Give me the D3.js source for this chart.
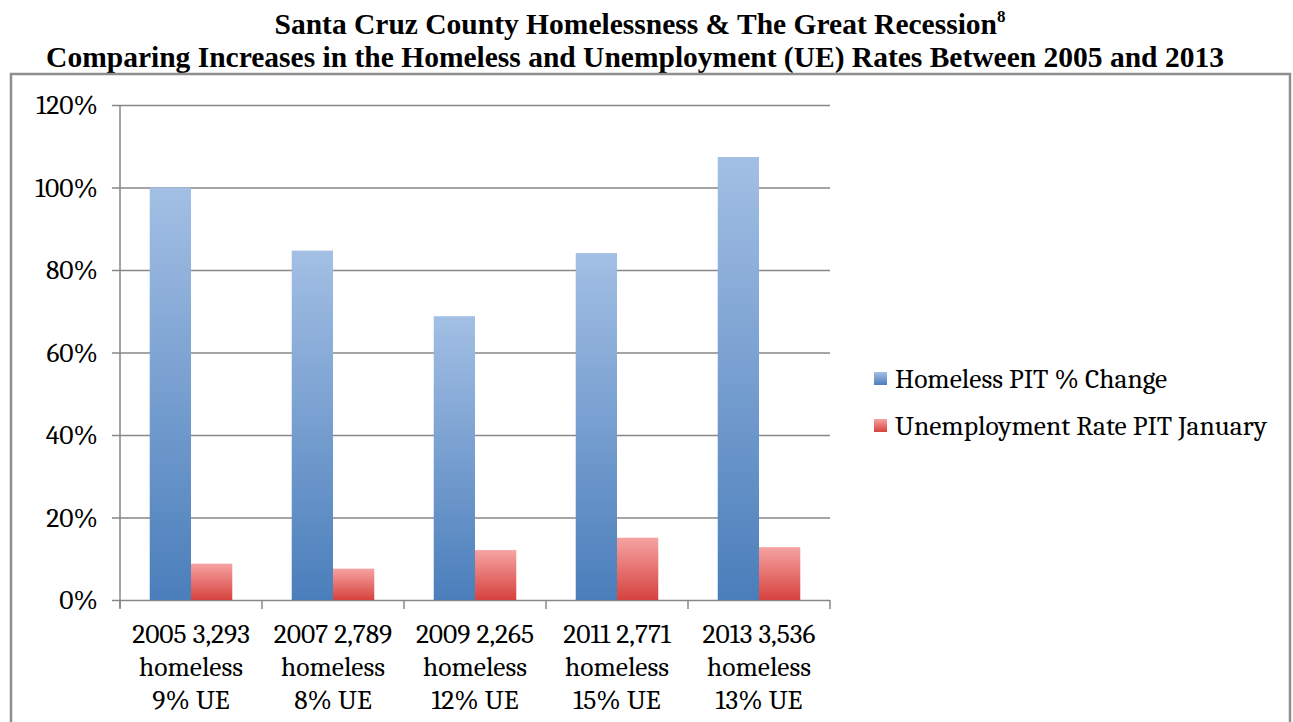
<!DOCTYPE html>
<html>
<head>
<meta charset="utf-8">
<script src="https://cdn.jsdelivr.net/npm/d3@7"></script>
<style>
  body { margin: 0; background: #fff; }
  svg text { fill: #000; }
</style>
</head>
<body>
<div id="chart"></div>
<script>
// Categories (each label is three lines)
var categories = [
    ["2005 3,293", "homeless", "9% UE"],
    ["2007 2,789", "homeless", "8% UE"],
    ["2009 2,265", "homeless", "12% UE"],
    ["2011 2,771", "homeless", "15% UE"],
    ["2013 3,536", "homeless", "13% UE"]
];

// Series values (percent)
var homelessChange = [100, 84.7, 68.8, 84.1, 107.4];
var unemploymentRate = [8.8, 7.6, 12.1, 15.1, 12.8];

var seriesNames = ["Homeless PIT % Change", "Unemployment Rate PIT January"];
var yTicks = [0, 20, 40, 60, 80, 100, 120];

var W = 1293, H = 722;
var svg = d3.select("#chart").append("svg")
    .attr("width", W)
    .attr("height", H);

var defs = svg.append("defs");
function grad(id, top, bottom) {
    var g = defs.append("linearGradient")
        .attr("id", id)
        .attr("x1", 0).attr("y1", 0).attr("x2", 0).attr("y2", 1);
    g.append("stop").attr("offset", "0%").attr("stop-color", top);
    g.append("stop").attr("offset", "100%").attr("stop-color", bottom);
}
grad("gBlue", "#a3bfe4", "#4a7ebb");
grad("gRed", "#f6a3a2", "#d6423e");

// Title
var title = svg.append("g")
    .attr("font-family", "'Liberation Serif', 'Times New Roman', serif")
    .attr("font-weight", "bold")
    .attr("font-size", "29.5px")
    .attr("text-anchor", "middle");
var t1 = title.append("text").attr("x", 640).attr("y", 34);
t1.append("tspan").text("Santa Cruz County Homelessness & The Great Recession");
t1.append("tspan").attr("font-size", "17px").attr("dy", -12).text("8");
title.append("text").attr("x", 635).attr("y", 67)
    .text("Comparing Increases in the Homeless and Unemployment (UE) Rates Between 2005 and 2013");

// Chart frame
svg.append("rect")
    .attr("x", 11).attr("y", 74)
    .attr("width", 1279).attr("height", 680)
    .attr("fill", "none")
    .attr("stroke", "#8e8e8e")
    .attr("stroke-width", 2.5);

var plot = { left: 120, right: 830, top: 105, bottom: 600 };

var x = d3.scaleBand()
    .domain(d3.range(categories.length))
    .range([plot.left, plot.right]);

var inner = d3.scaleBand()
    .domain([0, 1])
    .range([0, x.bandwidth()])
    .paddingInner(0)
    .paddingOuter(0.72);

var y = d3.scaleLinear()
    .domain([0, 120])
    .range([plot.bottom, plot.top]);

var font = "Cambria, Caladea, 'DejaVu Serif', 'Liberation Serif', serif";
var fsize = "27.5px";

// Gridlines + y labels
var yAxis = svg.append("g")
    .attr("transform", `translate(${plot.left},0)`)
    .call(d3.axisLeft(y).tickValues(yTicks).tickSize(8)
        .tickFormat(d => d + "%"));
yAxis.select(".domain").remove();
yAxis.selectAll(".tick line")
    .attr("x2", plot.right - plot.left)
    .attr("x1", -8)
    .attr("stroke", "#878787")
    .attr("stroke-width", 1.5);
yAxis.selectAll(".tick text")
    .attr("x", -22)
    .attr("font-family", font)
    .attr("font-size", fsize)
    .attr("fill", "#000");

// Vertical axis line
svg.append("line")
    .attr("x1", plot.left).attr("x2", plot.left)
    .attr("y1", plot.top).attr("y2", plot.bottom + 8)
    .attr("stroke", "#878787").attr("stroke-width", 1.5);

// Category tick marks
svg.append("g").selectAll("line")
    .data(d3.range(categories.length + 1))
    .join("line")
    .attr("x1", i => plot.left + i * x.step())
    .attr("x2", i => plot.left + i * x.step())
    .attr("y1", plot.bottom)
    .attr("y2", plot.bottom + 9)
    .attr("stroke", "#878787").attr("stroke-width", 1.5);

// Bars
var bars = svg.append("g");
categories.forEach(function(c, i) {
    bars.append("rect")
        .attr("x", x(i) + inner(0))
        .attr("y", y(homelessChange[i]))
        .attr("width", inner.bandwidth())
        .attr("height", plot.bottom - y(homelessChange[i]))
        .attr("fill", "url(#gBlue)");
    bars.append("rect")
        .attr("x", x(i) + inner(1))
        .attr("y", y(unemploymentRate[i]))
        .attr("width", inner.bandwidth())
        .attr("height", plot.bottom - y(unemploymentRate[i]))
        .attr("fill", "url(#gRed)");
});

// Category labels
var labels = svg.append("g")
    .attr("font-family", font)
    .attr("font-size", fsize)
    .attr("text-anchor", "middle");
categories.forEach(function(lines, i) {
    var t = labels.append("text")
        .attr("x", x(i) + x.bandwidth() / 2)
        .attr("y", 643);
    lines.forEach(function(l, k) {
        t.append("tspan")
            .attr("x", x(i) + x.bandwidth() / 2)
            .attr("dy", k === 0 ? 0 : 33)
            .text(l);
    });
});

// Legend
var legend = svg.append("g")
    .attr("font-family", font)
    .attr("font-size", fsize);
seriesNames.forEach(function(name, k) {
    var ly = 378 + k * 47;
    legend.append("rect")
        .attr("x", 874).attr("y", ly - 6)
        .attr("width", 13).attr("height", 13)
        .attr("fill", k === 0 ? "url(#gBlue)" : "url(#gRed)");
    legend.append("text")
        .attr("x", 895).attr("y", ly)
        .attr("dy", "0.35em")
        .text(name);
});
</script>
</body>
</html>
